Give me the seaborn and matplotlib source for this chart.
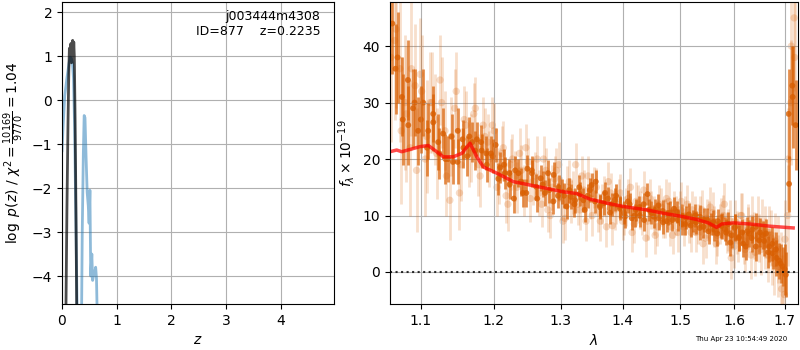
import numpy as np
import pandas as pd
import seaborn as sns
import matplotlib
matplotlib.use('Agg')
import matplotlib.pyplot as plt
from matplotlib.ticker import FixedLocator, NullLocator, FormatStrFormatter

# left panel: log p(z)
pz_z = [0.00, 0.02, 0.05, 0.09, 0.13, 0.15, 0.17, 0.19, 0.21, 0.23, 0.25, 0.27, 0.29,
        0.33, 0.35, 0.37, 0.39, 0.405, 0.42, 0.44, 0.46, 0.48, 0.495, 0.51, 0.525,
        0.545, 0.56, 0.575, 0.60, 0.615, 0.63, 0.645, 0.66]
pz_logp = [-1.15, -0.6, 0.1, 0.5, 0.85, 0.98, 0.95, 0.85, 0.5, -0.6, -2.4, -4.2, -6.0,
           -7.0, -6.0, -3.0, -1.2, -0.35, -0.4, -1.3, -2.1, -2.4, -2.8, -2.05, -4.0,
           -3.5, -4.1, -4.0, -3.9, -3.8, -4.05, -5.0, -7.0]

fine_z = [0.07, 0.09, 0.11, 0.125, 0.135, 0.145, 0.155, 0.165, 0.175, 0.185, 0.195,
          0.205, 0.215, 0.225, 0.24, 0.255, 0.27]
fine_logp = [-5.0, -2.5, -0.5, 0.7, 1.18, 0.95, 1.25, 1.29, 0.85, 1.2, 1.36,
             0.9, 1.32, 1.0, -0.5, -2.5, -5.0]

# right panel: spectrum, two combined (darker) sets
spec_wave = np.linspace(1.063, 1.722, 100)
spec_flux = [44, 38, 27, 34, 29, 25, 30, 25, 28, 23,
             24.5, 20, 19.5, 25, 23.5, 20.5, 23, 23.5, 21.5, 21,
             21, 22.5, 18.5, 17.5, 17.5, 13, 17.5, 14, 18.3, 18,
             15.1, 16.6, 14, 14.5, 17.2, 13.5, 14.2, 11.6, 13.3, 12.7,
             15, 12.7, 13.5, 15.4, 16, 11.5, 12.2, 13, 12, 13.5,
             11.5, 10.5, 12.5, 9.5, 11, 10, 12, 13.8, 10.5, 11,
             9.5, 10.8, 9, 10.5, 11.2, 9.2, 10, 8.5, 10.2, 9,
             8.8, 9.8, 8, 9.3, 8.5, 7.5, 9, 8.2, 7.6, 8.5,
             6.5, 8, 6, 7, 4.5, 6.8, 7.5, 8, 5.6, 6.5,
             6.8, 4.5, 3.3, 4, 2, 1, -0.5, 15.6, 33, 26]
spec_err = [9, 8, 8, 7, 7, 6, 6, 5, 5, 5,
            4.5, 4, 4, 4, 3.5, 3.5, 3.5, 3, 3, 3,
            3, 3, 2.8, 2.8, 2.5, 2.5, 2.5, 2.5, 2.5, 2.5,
            2.3, 2.3, 2.3, 2.2, 2.2, 2.2, 2.2, 2.2, 2.2, 2.2,
            2.2, 2.1, 2.1, 2.1, 2.1, 2.1, 2.1, 2.0, 2.0, 2.0,
            2.0, 2.0, 2.0, 2.0, 2.0, 2.0, 2.0, 2.0, 2.0, 2.0,
            2.0, 2.0, 2.0, 2.0, 2.0, 2.0, 2.0, 2.0, 2.0, 2.0,
            2.0, 2.0, 2.0, 2.0, 2.0, 2.1, 2.1, 2.1, 2.2, 2.2,
            2.3, 2.3, 2.3, 2.3, 2.4, 2.4, 2.4, 2.5, 2.5, 2.5,
            2.6, 2.7, 2.8, 3.0, 3.2, 3.5, 4, 5, 7, 8]

spec2_wave = np.linspace(1.067, 1.716, 80)
spec2_flux = [36, 31, 26, 30, 27, 22, 26.5, 21, 20, 24,
              19.5, 22, 24, 21.5, 23, 19, 20.5, 16.5, 19, 15.5,
              18, 16, 14, 17.5, 13, 15.5, 17.5, 12.5, 15, 13.5,
              14.5, 12, 13.8, 11, 14.5, 12.5, 11.8, 14, 10.5, 12.8,
              11.2, 9.8, 12, 10, 11.5, 9.2, 11, 9.8, 11.8, 8.8,
              10.4, 9.2, 10.6, 8.5, 9.6, 8.2, 10, 7.8, 9.2, 7.2,
              8.8, 6.8, 8.2, 7, 5.2, 7.8, 6.2, 5, 7.2, 6,
              4.5, 7, 5.5, 3.5, 5, 2.5, 1.5, 0.5, 28, 31]
spec2_err = [8, 7, 7, 6, 6, 5, 5, 4.5, 4.5, 4,
             4, 3.5, 3.5, 3.5, 3, 3, 3, 2.8, 2.8, 2.6,
             2.5, 2.5, 2.5, 2.4, 2.4, 2.3, 2.3, 2.3, 2.2, 2.2,
             2.2, 2.2, 2.1, 2.1, 2.1, 2.1, 2.0, 2.0, 2.0, 2.0,
             2.0, 2.0, 2.0, 2.0, 2.0, 2.0, 2.0, 2.0, 2.0, 2.0,
             2.0, 2.0, 2.0, 2.0, 2.0, 2.0, 2.1, 2.1, 2.1, 2.2,
             2.2, 2.2, 2.3, 2.3, 2.3, 2.4, 2.4, 2.4, 2.5, 2.5,
             2.6, 2.6, 2.7, 2.8, 3.0, 3.2, 3.5, 4.5, 8, 9]

# individual beams (faint)
beam_wave = np.linspace(1.066, 1.720, 100)
beam_flux = [41, 36, 30, 22, 33, 35, 20, 30, 27, 34,
             25, 12.7, 29, 14, 27, 21, 28, 19, 26, 23,
             26, 15, 21, 13.5, 19, 17, 21, 14.5, 19.5, 16,
             20, 12, 18, 10, 16.5, 19, 9, 15, 12.5, 19,
             11, 14.5, 17, 10, 15, 9, 13.5, 16, 8.2, 12,
             14, 10, 13, 7, 12.5, 11, 14.5, 9, 11, 6.5,
             12, 9.5, 13, 8, 11, 7, 12.5, 10, 8.5, 11,
             7, 10, 5, 9.5, 11.5, 8, 6.5, 9.5, 12, 7.5,
             2.5, 9, 5.5, 10, 4, 7.5, 9.5, 3.5, 6, 8.5,
             5, 7, 2.5, 5.5, 1, -3, 5.8, 20, 40, 38]
beam_err = [14, 13, 12, 12, 11, 10, 10, 9, 8, 8,
            7, 7, 7, 6.5, 6, 6, 5.5, 5.5, 5, 5,
            5, 5, 4.8, 4.8, 4.5, 4.5, 4.5, 4.5, 4.2, 4.2,
            4, 4, 4, 4, 4, 4, 3.8, 3.8, 3.8, 3.8,
            3.6, 3.6, 3.6, 3.6, 3.5, 3.5, 3.5, 3.5, 3.5, 3.5,
            3.4, 3.4, 3.4, 3.4, 3.4, 3.4, 3.4, 3.4, 3.4, 3.4,
            3.4, 3.4, 3.4, 3.4, 3.4, 3.4, 3.4, 3.4, 3.4, 3.4,
            3.5, 3.5, 3.5, 3.5, 3.5, 3.6, 3.6, 3.6, 3.7, 3.7,
            3.8, 3.8, 3.8, 3.9, 4, 4, 4, 4.2, 4.2, 4.4,
            4.5, 4.6, 4.8, 5, 5.5, 6, 7, 9, 10, 12]

beam2_wave = np.linspace(1.061, 1.719, 100)
beam2_flux = [38, 43, 25, 28, 36, 18, 32, 24, 30, 21,
              30, 17, 24, 32, 19, 26, 22, 29, 17, 24,
              20, 25, 17, 22, 12, 20, 15, 18, 22, 13,
              17, 14, 20, 11, 15, 18, 13, 9.5, 16, 14,
              12, 17, 9, 13, 15, 10.5, 12, 8, 14, 11,
              13, 9, 11.5, 15, 8.5, 12, 10, 6, 13, 10,
              8, 11.5, 9.5, 12.5, 6.5, 10, 11, 8, 12, 7,
              10, 8.5, 11, 6, 9, 10.5, 5, 8.5, 10, 7,
              9, 4.5, 7, 10, 5.5, 8, 3, 6.5, 9, 4,
              7, 3, 6, 1.5, 4, 0, -4, 10, 30, 45]
beam2_err = [15, 14, 13, 12, 12, 11, 10, 10, 9, 8,
             8, 7, 7, 7, 6.5, 6, 6, 5.5, 5.5, 5,
             5, 5, 5, 4.8, 4.8, 4.5, 4.5, 4.5, 4.2, 4.2,
             4.2, 4, 4, 4, 4, 4, 3.8, 3.8, 3.8, 3.8,
             3.6, 3.6, 3.6, 3.6, 3.6, 3.5, 3.5, 3.5, 3.5, 3.5,
             3.4, 3.4, 3.4, 3.4, 3.4, 3.4, 3.4, 3.4, 3.4, 3.4,
             3.4, 3.4, 3.4, 3.4, 3.4, 3.4, 3.4, 3.4, 3.4, 3.4,
             3.5, 3.5, 3.5, 3.5, 3.5, 3.6, 3.6, 3.6, 3.7, 3.7,
             3.8, 3.8, 3.8, 3.9, 4, 4, 4.2, 4.2, 4.4, 4.5,
             4.6, 4.8, 5, 5.5, 6, 7, 8, 9, 11, 13]

# best-fit model
model_wave = [1.060, 1.0685, 1.0749, 1.0856, 1.0987, 1.1097, 1.1209, 1.1298, 1.1434,
              1.1550, 1.1665, 1.1759, 1.1853, 1.2044, 1.2285, 1.2531, 1.2784, 1.3041,
              1.3252, 1.3464, 1.3736, 1.4012, 1.4410, 1.4699, 1.4996, 1.5298, 1.5512,
              1.5668, 1.5763, 1.5985, 1.6308, 1.6703, 1.7170]
model_flux = [21.3, 21.6, 21.3, 21.7, 22.2, 22.4, 21.3, 20.4, 20.4,
              21.0, 22.8, 20.4, 18.6, 17.5, 16.0, 15.4, 14.8, 14.2,
              13.9, 12.9, 12.2, 11.6, 11.0, 10.4, 9.9, 9.3, 8.7,
              7.9, 8.5, 8.7, 8.5, 8.1, 7.8]

wave_ticks = [1.1, 1.2, 1.3, 1.4, 1.5, 1.6, 1.7]

orange = '#d95f02'

fig = plt.figure(figsize=(8, 3.5), dpi=100)
ax1 = fig.add_axes([0.0775, 0.131, 0.34, 0.863])
ax2 = fig.add_axes([0.4875, 0.131, 0.51, 0.863])

# p(z)
sns.lineplot(x=pz_z, y=pz_logp, ax=ax1, color='C0', alpha=0.5, lw=2,
             estimator=None, sort=False)
sns.lineplot(x=fine_z, y=fine_logp, ax=ax1, color='k', alpha=0.7, lw=2,
             estimator=None, sort=False)
ax1.set_xlim(0, 4.97)
ax1.set_ylim(-4.64, 2.23)
ax1.set_xticks([0, 1, 2, 3, 4])
ax1.set_yticks([-4, -3, -2, -1, 0, 1, 2])
ax1.grid(True)
ax1.set_xlabel(r'$z$')
ax1.set_ylabel(r'$\log\ p(z)$' + ' / ' + r'$\chi^2=\frac{10169}{9770}=1.04$')
ax1.text(0.95, 0.975, 'j003444m4308\nID=877    z=0.2235', ha='right', va='top',
         transform=ax1.transAxes, fontsize=9)

# spectrum: faint beams first, then combined
for w, f, e in [(beam_wave, beam_flux, beam_err), (beam2_wave, beam2_flux, beam2_err)]:
    ax2.errorbar(w, f, yerr=e, fmt='none', ecolor=orange, alpha=0.2, elinewidth=2)
    sns.scatterplot(x=w, y=f, ax=ax2, color=orange, alpha=0.22, s=28, edgecolor='none')
for w, f, e in [(spec_wave, spec_flux, spec_err), (spec2_wave, spec2_flux, spec2_err)]:
    ax2.errorbar(w, f, yerr=e, fmt='none', ecolor=orange, alpha=0.7, elinewidth=2)
    sns.scatterplot(x=w, y=f, ax=ax2, color=orange, alpha=0.8, s=18, edgecolor='none')
sns.lineplot(x=model_wave, y=model_flux, ax=ax2, color='r', alpha=0.7, lw=2.5,
             estimator=None, sort=False)
ax2.axhline(0, color='k', ls=':', lw=1.5, alpha=0.8)

ax2.set_xscale('log')
ax2.set_xlim(1.06, 1.727)
ax2.set_ylim(-5.7, 47.8)
ax2.xaxis.set_major_locator(FixedLocator(wave_ticks))
ax2.xaxis.set_major_formatter(FormatStrFormatter('%.1f'))
ax2.xaxis.set_minor_locator(NullLocator())
ax2.set_yticks([0, 10, 20, 30, 40])
ax2.grid(True)
ax2.set_xlabel(r'$\lambda$')
ax2.set_ylabel(r'$f_\lambda\times10^{-19}$')

fig.text(0.984, 0.022, 'Thu Apr 23 10:54:49 2020', ha='right', va='bottom', fontsize=5)

fig.savefig('out.png', dpi=100)
